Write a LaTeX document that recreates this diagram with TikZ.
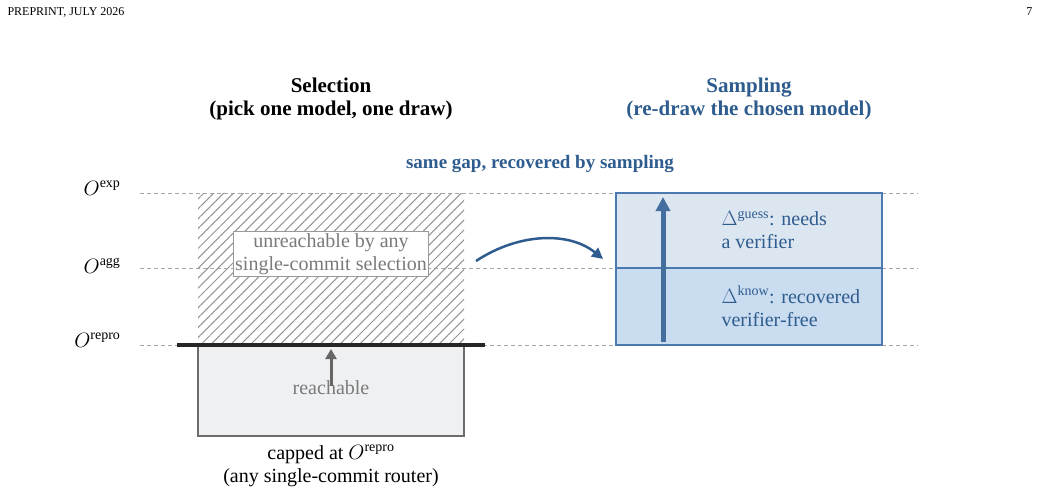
\documentclass[tikz,border=0pt]{standalone}
\usepackage{fontspec}
\setmainfont{Liberation Serif}
\usetikzlibrary{patterns.meta,arrows.meta}
\definecolor{blu}{HTML}{2E5C8E}
\definecolor{bord}{HTML}{4A7AB0}
\definecolor{upf}{HTML}{DCE6F1}
\definecolor{lof}{HTML}{C9DCF0}
\definecolor{gfill}{HTML}{EFF0F2}
\definecolor{gtxt}{HTML}{7A7A7A}
\begin{document}
\begin{tikzpicture}[x=1pt,y=-1pt,
  lvl/.style={gray!70,dash pattern=on 4pt off 3pt,line width=1pt},
  olab/.style={anchor=east,font=\fontsize{20}{22}\selectfont},
  ttl/.style={font=\bfseries\fontsize{21}{23}\selectfont,align=center},
  body/.style={font=\fontsize{20}{23}\selectfont}]
\useasboundingbox (0,0) rectangle (1041,496);
\node[anchor=west,font=\fontsize{12}{13}\selectfont] (hd) at (4,12) {PREPRINT, JULY 2026};
\node[anchor=east,font=\fontsize{12}{13}\selectfont] (pg) at (1036,12) {7};
\draw[lvl] (140,193) -- (918,193);
\draw[lvl] (140,268) -- (918,268);
\draw[lvl] (140,345) -- (918,345);
\node[olab] (oexp) at (124,188) {$O^{\mathrm{exp}}$};
\node[olab] (oagg) at (124,266) {$O^{\mathrm{agg}}$};
\node[olab] (orep) at (124,340) {$O^{\mathrm{repro}}$};
\node[ttl] (sel) at (331,99) {Selection\\(pick one model, one draw)};
\node[ttl,text=blu] (sam) at (749,99) {Sampling\\(re-draw the chosen model)};
\node[font=\bfseries\fontsize{19}{21}\selectfont,text=blu] (gap) at (540,164) {same gap, recovered by sampling};
% left
\fill[pattern={Lines[angle=45,distance=7pt,line width=1pt]},pattern color=gray!85] (198,193) rectangle (464,345);
\draw[gray!85!black,fill=gfill,line width=1.5pt] (198,345) rectangle (464,436);
\draw[line width=4pt,black!85] (177,345) -- (485,345);
\node[draw=gray!80,fill=white,body,text=gtxt,align=center,inner sep=2pt,line width=1pt] (unr) at (331,254) {unreachable by any\\single-commit selection};
\node[body,text=gtxt] (rch) at (331,388) {reachable};
\coordinate (ra) at (331,386);
\coordinate (rb) at (331,349);
\draw[-{Triangle[length=10pt,width=11pt]},line width=3pt,gray!80!black] (ra) -- (rb);
\node[body,align=center] (cap) at (331,466) {capped at $O^{\mathrm{repro}}$\\(any single-commit router)};
% right
\draw[bord,fill=upf,line width=1.5pt] (616,193) rectangle (882,268);
\draw[bord,fill=lof,line width=1.5pt] (616,268) rectangle (882,345);
\coordinate (ba) at (663,342);
\coordinate (bb) at (663,197);
\draw[-{Triangle[length=14pt,width=14pt]},line width=5pt,bord!90!black] (ba) -- (bb);
\node[body,text=blu,anchor=west,align=left] (dg) at (718,230) {$\Delta^{\mathrm{guess}}$: needs\\a verifier};
\node[body,text=blu,anchor=west,align=left] (dk) at (718,306) {$\Delta^{\mathrm{know}}$: recovered\\verifier-free};
\coordinate (ca) at (476,261);
\coordinate (cb) at (603,259);
\draw[-{Triangle[length=11pt,width=11pt]},line width=2.5pt,blu] (ca) .. controls (520,232) and (570,232) .. (cb);
\end{tikzpicture}
\end{document}
